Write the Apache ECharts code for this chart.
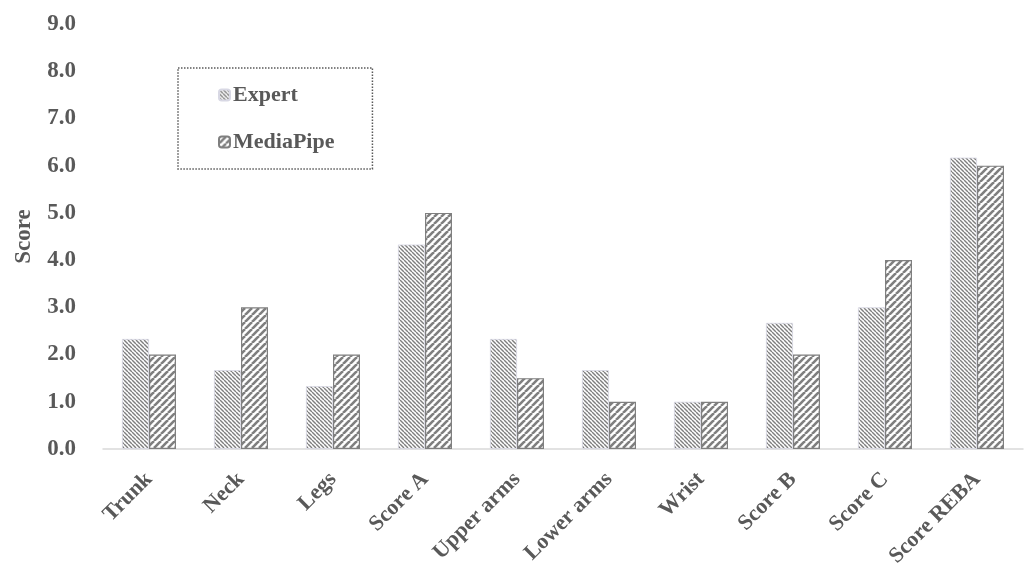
<!DOCTYPE html>
<html>
<head>
<meta charset="utf-8">
<script src="https://cdn.jsdelivr.net/npm/echarts@6/dist/echarts.min.js"></script>
<style>
  html, body { margin: 0; padding: 0; background: #fff; }
  #chart { width: 1026px; height: 574px; }
</style>
</head>
<body>
<div id="chart"></div>
<script>
// REBA component scores: expert assessment vs. MediaPipe estimate
const categories = ['Trunk', 'Neck', 'Legs', 'Score A', 'Upper arms', 'Lower arms', 'Wrist', 'Score B', 'Score C', 'Score REBA'];
const expertScores = [2.33, 1.67, 1.33, 4.33, 2.33, 1.67, 1.0, 2.67, 3.0, 6.17];
const mediapipeScores = [2.0, 3.0, 2.0, 5.0, 1.5, 1.0, 1.0, 2.0, 4.0, 6.0];
const yTicks = [0, 1, 2, 3, 4, 5, 6, 7, 8, 9];

const TEXT = '#595959';
const HATCH = '#7f7f7f';
const FONT = '"Liberation Serif", "Times New Roman", serif';

// Diagonal hatch tile; dir = 1 for "\" lines, -1 for "/" lines
function hatchTile(size, lineWidth, dir) {
  const c = document.createElement('canvas');
  c.width = size; c.height = size;
  const g = c.getContext('2d');
  g.fillStyle = '#fff';
  g.fillRect(0, 0, size, size);
  g.strokeStyle = HATCH;
  g.lineWidth = lineWidth;
  for (let k = -1; k <= 1; k++) {
    g.beginPath();
    if (dir > 0) {
      g.moveTo(k * size, 0);
      g.lineTo(k * size + size, size);
    } else {
      g.moveTo(k * size, size);
      g.lineTo(k * size + size, 0);
    }
    g.stroke();
  }
  return c;
}

const expertFill = { image: hatchTile(4, 1.4, 1), repeat: 'repeat' };
const mediapipeFill = { image: hatchTile(7, 2.6, -1), repeat: 'repeat' };

const chart = echarts.init(document.getElementById('chart'));
chart.setOption({
  animation: false,
  backgroundColor: '#fff',
  grid: { left: 103, right: 3, top: 24, bottom: 125, containLabel: false },
  legend: {
    orient: 'vertical',
    left: 178,
    top: 68,
    padding: [16, 38, 16, 40],
    itemGap: 25,
    itemWidth: 11,
    itemHeight: 11,
    borderColor: '#595959',
    borderWidth: 1.5,
    borderType: [1.5, 1.5],
    textStyle: { fontFamily: FONT, fontWeight: 'bold', fontSize: 22, color: TEXT, padding: [0, 0, 0, -2] },
    data: ['Expert', 'MediaPipe']
  },
  xAxis: {
    type: 'category',
    data: categories,
    axisLine: { lineStyle: { color: '#d9d9d9', width: 1.5 } },
    axisTick: { show: false },
    axisLabel: {
      rotate: 45,
      margin: 27,
      interval: 0,
      fontFamily: FONT,
      fontWeight: 'bold',
      fontSize: 22,
      color: TEXT
    }
  },
  yAxis: {
    type: 'value',
    min: 0,
    max: 9,
    interval: 1,
    name: 'Score',
    nameLocation: 'middle',
    nameRotate: 90,
    nameGap: 67,
    nameTextStyle: { fontFamily: FONT, fontWeight: 'bold', fontSize: 23, color: TEXT },
    axisLine: { show: false },
    axisTick: { show: false },
    splitLine: { show: false },
    axisLabel: {
      margin: 27,
      fontFamily: FONT,
      fontWeight: 'bold',
      fontSize: 23,
      color: TEXT,
      formatter: v => yTicks.includes(v) ? v.toFixed(1) : ''
    }
  },
  series: [
    {
      name: 'Expert',
      type: 'bar',
      data: expertScores,
      barWidth: 27,
      barGap: '0%',
      itemStyle: { color: expertFill, borderColor: '#d8d8e4', borderWidth: 0.8 }
    },
    {
      name: 'MediaPipe',
      type: 'bar',
      data: mediapipeScores,
      barWidth: 27,
      barGap: '0%',
      itemStyle: { color: mediapipeFill, borderColor: HATCH, borderWidth: 1.2 }
    }
  ]
});
</script>
</body>
</html>
